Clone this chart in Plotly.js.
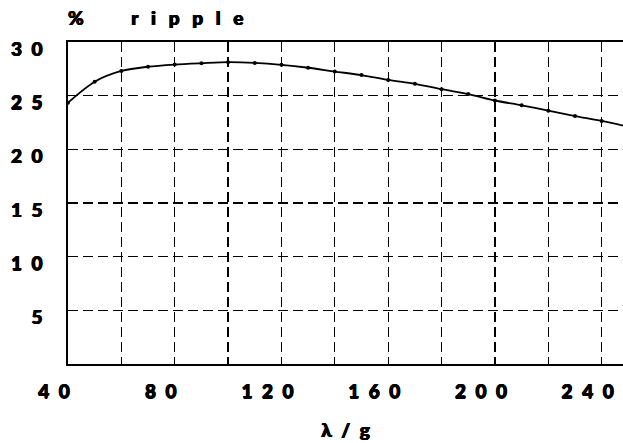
<!DOCTYPE html>
<html>
<head>
<meta charset="utf-8">
<script src="https://cdn.plot.ly/plotly-3.0.1.min.js"></script>
<style>html,body{margin:0;padding:0;background:#fff;}#chart{width:623px;height:443px;}</style>
</head>
<body>
<div id="chart"></div>
<script>
const lambdaG = [40, 50, 60, 70, 80, 90, 100, 110, 120, 130, 140, 150, 160, 170, 180, 190, 200, 210, 220, 230, 240, 250];
const ripple = [24.35, 26.3, 27.3, 27.7, 27.9, 28.02, 28.12, 28.05, 27.87, 27.6, 27.25, 26.92, 26.47, 26.1, 25.6, 25.15, 24.55, 24.1, 23.6, 23.1, 22.65, 22.1];
const xTickVals = [40, 60, 80, 100, 120, 140, 160, 180, 200, 220, 240];
const xTickText = ["4\u20020", "", "8\u20020", "", "1\u20022\u20020", "", "1\u20026\u20020", "", "2\u20020\u20020", "", "2\u20024\u20020"];
const yTickVals = [0, 5, 10, 15, 20, 25, 30];
const yTickText = ["", "5", "1\u20020", "1\u20025", "2\u20020", "2\u20025", "3\u20020"];
const titleText = "%\u2003\u2003\u2002\u2002r\u2002\u2006i\u2002\u2006p\u2002\u2006p\u2002\u2006l\u2002\u2006e";
const xTitle = "\u03bb\u2002/\u2002g";

const fontFam = "Lato, Liberation Sans, Arial, sans-serif";
const fnt = {family: fontFam, size: 19, color: '#000', weight: 900,
             shadow: '0.5px 0 0 #000, -0.5px 0 0 #000, 0 0.4px 0 #000'};
const trace = {
  x: lambdaG, y: ripple, type: 'scatter', mode: 'lines+markers',
  line: {color: '#000', width: 1.8, shape: 'spline', smoothing: 0.8},
  marker: {color: '#000', size: 4},
  cliponaxis: true, hoverinfo: 'skip'
};
const axisCommon = {
  showgrid: true, gridcolor: '#000', gridwidth: 1.3, griddash: '10px,5px',
  zeroline: false, showline: true, linecolor: '#000', linewidth: 1.6,
  ticks: '', tickmode: 'array',
  tickfont: fnt
};
const layout = {
  width: 623, height: 443,
  margin: {l: 68, r: 0, t: 42, b: 79, pad: 0},
  paper_bgcolor: '#fff', plot_bgcolor: '#fff',
  showlegend: false,
  title: {text: titleText, x: 0, xref: 'paper', xanchor: 'left', y: 1 - 18/443, yref: 'container', yanchor: 'middle',
          font: fnt},
  xaxis: Object.assign({}, axisCommon, {
    range: [40, 248], tickvals: xTickVals, ticktext: xTickText, mirror: true,
    ticklabelshift: -14, ticklabelstandoff: 10,
    title: {text: xTitle, standoff: 22, font: fnt}
  }),
  yaxis: Object.assign({}, axisCommon, {
    range: [0, 30], tickvals: yTickVals, ticktext: yTickText, mirror: false,
    ticklabelshift: 7, ticklabelstandoff: 20
  })
};
Plotly.newPlot('chart', [trace], layout, {staticPlot: true, displayModeBar: false});
</script>
</body>
</html>
